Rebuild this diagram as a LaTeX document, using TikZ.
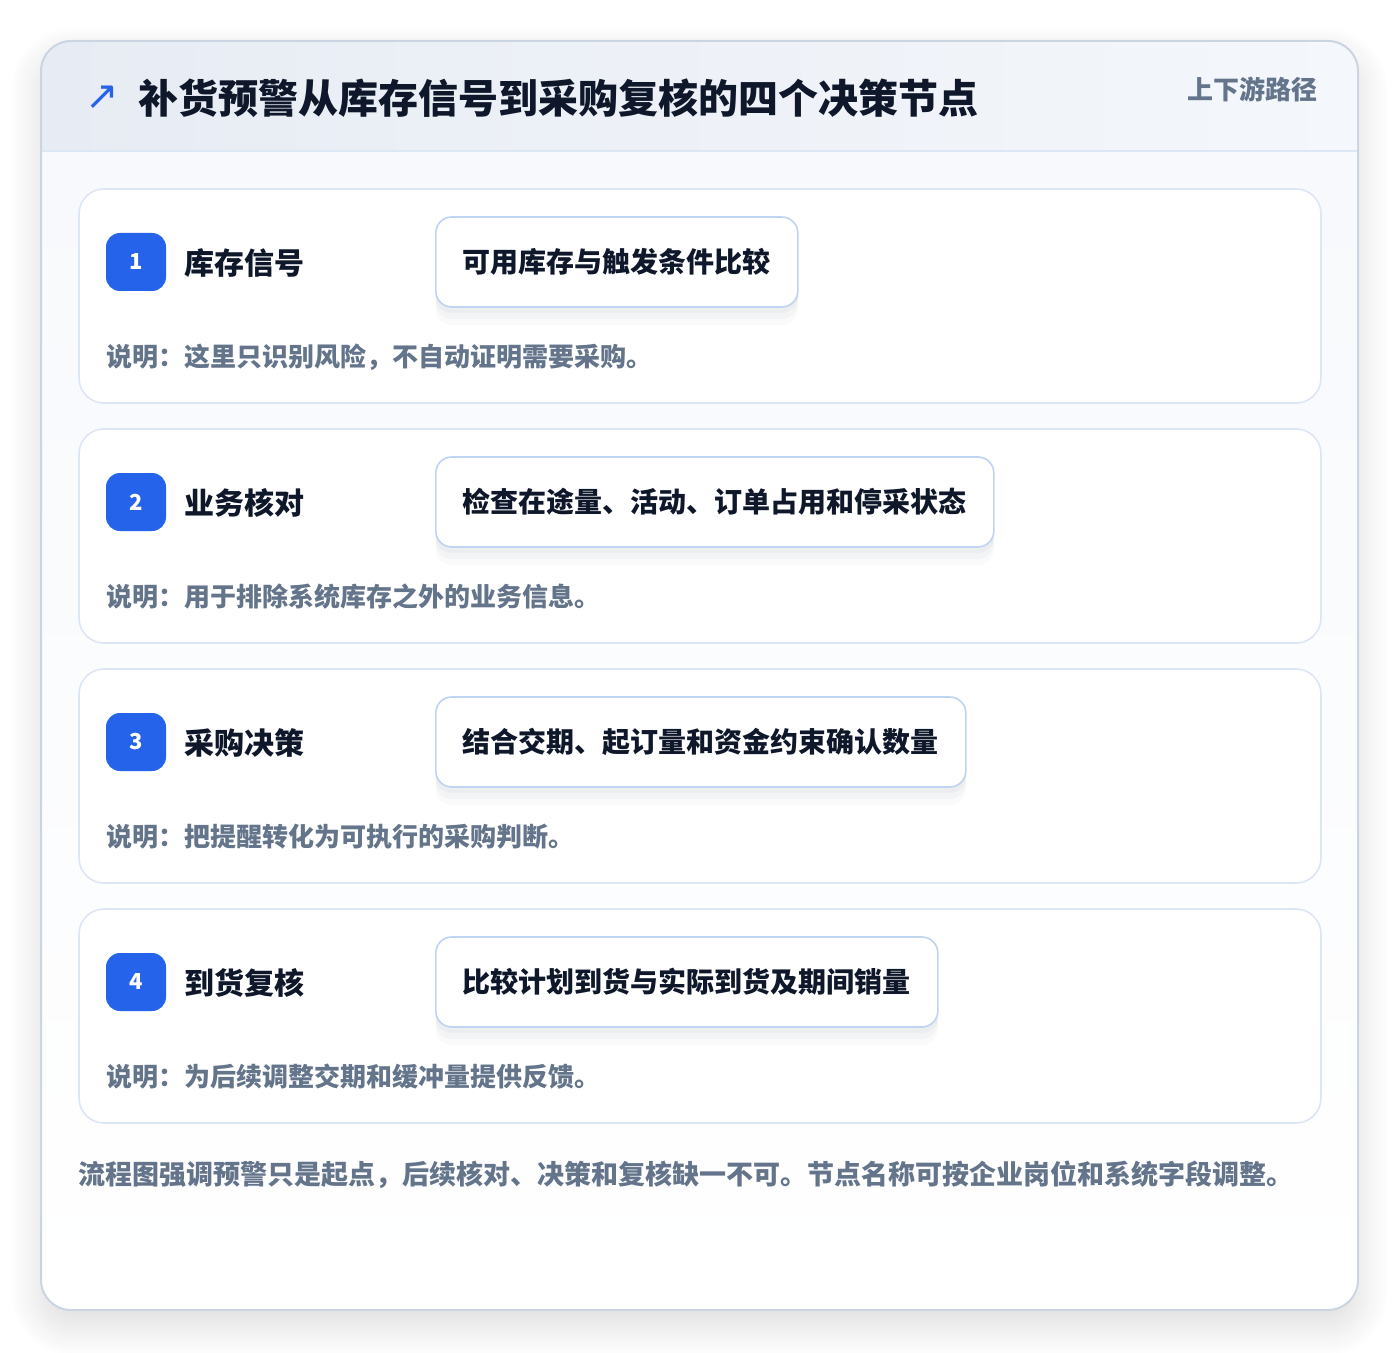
\documentclass[tikz,border=0pt]{standalone}
\usepackage{fontspec}
\setmainfont{Noto Sans CJK SC}
\newfontfamily\symfont{DejaVu Sans}
\usetikzlibrary{positioning,shadows.blur}

\definecolor{ink}{HTML}{0F172A}
\definecolor{muted}{HTML}{64748B}
\definecolor{badgeblue}{HTML}{2563EB}
\definecolor{frameline}{HTML}{CBD5E1}
\definecolor{headl}{HTML}{E7ECF4}
\definecolor{headr}{HTML}{F4F7FB}
\definecolor{headline}{HTML}{DCE7F6}
\definecolor{bodyfill}{HTML}{F7F9FC}
\definecolor{cardline}{HTML}{DCE6F4}
\definecolor{boxline}{HTML}{BFD4F0}
\definecolor{shadowc}{HTML}{334155}

\tikzset{
  stepcard/.style={draw=cardline, fill=white, line width=0.8pt, rounded corners=12.5pt,
    minimum width=621pt, minimum height=107pt},
  badge/.style={fill=badgeblue, rounded corners=7pt, minimum width=30pt, minimum height=29pt,
    inner sep=0pt, text=white, font=\bfseries\fontsize{11}{13}\selectfont},
  steptitle/.style={anchor=west, inner sep=0pt, text=ink, font=\bfseries\fontsize{15}{18}\selectfont},
  checkbox/.style={anchor=west, draw=boxline, fill=white, line width=0.8pt, rounded corners=8pt,
    minimum height=45pt, inner xsep=13.5pt, text=ink, font=\bfseries\fontsize{14}{17}\selectfont,
    preaction={fill=shadowc, fill opacity=0.025, transform canvas={yshift=-9pt}},
    preaction={fill=shadowc, fill opacity=0.03, transform canvas={yshift=-6pt}},
    preaction={fill=shadowc, fill opacity=0.035, transform canvas={yshift=-3pt}}},
  stepnote/.style={anchor=west, inner sep=0pt, text=muted, font=\bfseries\fontsize{13}{16}\selectfont},
}

\begin{document}
\begin{tikzpicture}[x=0.5pt, y=-0.5pt]
	\useasboundingbox (0,0) rectangle (1400,1352);
	% outer frame with header
	\path[fill=white, rounded corners=15pt, blur shadow={shadow xshift=0pt, shadow yshift=-8pt, shadow opacity=14, shadow blur radius=16pt, shadow blur steps=20, shadow blur extra rounding}] (41,41) rectangle (1358,1310);
	\begin{scope}
		\clip[rounded corners=15pt] (41,41) rectangle (1358,1310);
		\shade[top color=bodyfill, bottom color=white] (41,151) rectangle (1358,1310);
		\shade[left color=headl, right color=headr] (41,41) rectangle (1358,151);
	\end{scope}
	\draw[headline, line width=0.8pt] (41,151) -- (1358,151);
	\draw[frameline, line width=1pt, rounded corners=15pt] (41,41) rectangle (1358,1310);

	\node [inner sep=0pt, text=badgeblue, font=\symfont\fontsize{20}{24}\selectfont] (icon) at (102,98) {↗};
	\node [anchor=west, inner sep=0pt, text=ink, font=\bfseries\fontsize{20}{24}\selectfont] (title) at (138,98) {补货预警从库存信号到采购复核的四个决策节点};
	\node [anchor=east, inner sep=0pt, text=muted, font=\bfseries\fontsize{13}{16}\selectfont] (route) at (1318,89) {上下游路径};

	% step 1
	\node [stepcard] (card1) at (700,296) {};
	\node [badge] (num1) at (136,262) {1};
	\node [steptitle] (name1) at (184,263) {库存信号};
	\node [checkbox] (box1) at (435,262) {可用库存与触发条件比较};
	\node [stepnote] (note1) at (106,357) {说明：这里只识别风险，不自动证明需要采购。};

	% step 2
	\node [stepcard] (card2) at (700,536) {};
	\node [badge] (num2) at (136,502) {2};
	\node [steptitle] (name2) at (184,503) {业务核对};
	\node [checkbox] (box2) at (435,502) {检查在途量、活动、订单占用和停采状态};
	\node [stepnote] (note2) at (106,597) {说明：用于排除系统库存之外的业务信息。};

	% step 3
	\node [stepcard] (card3) at (700,776) {};
	\node [badge] (num3) at (136,742) {3};
	\node [steptitle] (name3) at (184,743) {采购决策};
	\node [checkbox] (box3) at (435,742) {结合交期、起订量和资金约束确认数量};
	\node [stepnote] (note3) at (106,837) {说明：把提醒转化为可执行的采购判断。};

	% step 4
	\node [stepcard] (card4) at (700,1016) {};
	\node [badge] (num4) at (136,982) {4};
	\node [steptitle] (name4) at (184,983) {到货复核};
	\node [checkbox] (box4) at (435,982) {比较计划到货与实际到货及期间销量};
	\node [stepnote] (note4) at (106,1077) {说明：为后续调整交期和缓冲量提供反馈。};

	\node [anchor=west, inner sep=0pt, text=muted, font=\bfseries\fontsize{13.5}{16}\selectfont] (footer) at (78,1175) {流程图强调预警只是起点，后续核对、决策和复核缺一不可。节点名称可按企业岗位和系统字段调整。};
\end{tikzpicture}
\end{document}
